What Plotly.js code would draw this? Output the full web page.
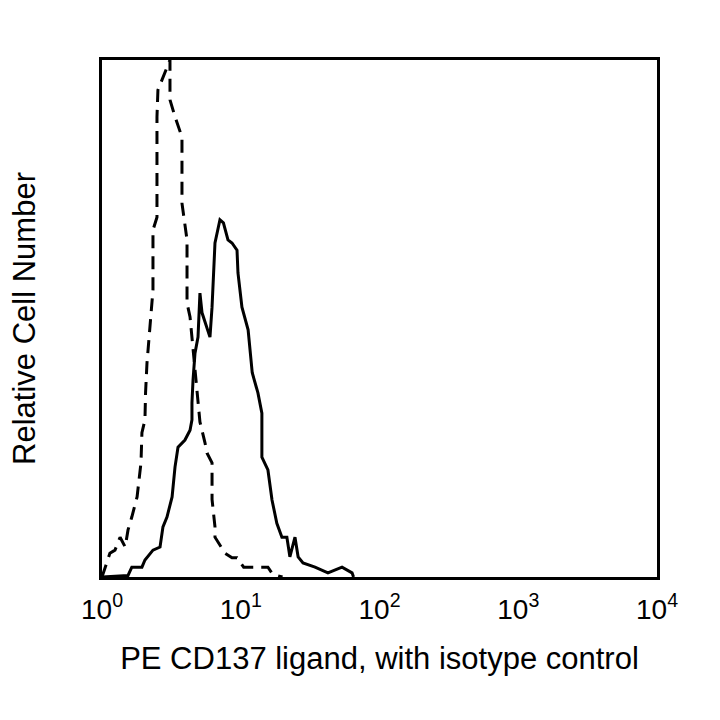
<!DOCTYPE html>
<html>
<head>
<meta charset="utf-8">
<script src="https://cdn.plot.ly/plotly-3.0.1.min.js"></script>
<style>html,body{margin:0;padding:0;background:#fff}#chart{width:720px;height:720px}</style>
</head>
<body>
<div id="chart"></div>
<script>
// Isotype control (dashed)
const isoX = [1.00,1.05,1.14,1.24,1.35,1.47,1.54,1.64,1.79,1.91,1.94,2.04,2.06,2.11,2.22,2.33,2.33,2.49,2.49,2.49,2.53,2.71,3.09,3.09,3.36,3.77,3.77,4.10,4.10,4.10,4.31,4.68,5.08,5.52,5.71,6.21,6.21,6.52,6.52,7.70,8.65,9.40,10.5,14.2,15.7,17.0,20.0];
const isoY = [0,1.9,4.6,5.2,7.7,5.8,9.1,11.6,15.5,22.1,27.9,30.4,35.6,41.4,48.4,55.5,67.1,69.6,82.0,89.0,94.2,96.1,100,92.3,89.0,85.1,72.3,65.2,56.9,53.0,50.3,40.0,30.0,26.0,24.0,22.1,15.0,9.7,7.7,4.6,3.7,3.7,1.9,1.9,1.9,0.5,0];
// PE CD137 ligand (solid)
const stainX = [1.00,1.54,1.64,1.94,2.04,2.33,2.62,2.75,2.94,3.20,3.36,3.53,3.96,4.31,4.45,4.45,4.53,4.68,4.92,5.08,5.26,6.00,6.21,6.52,7.08,7.50,8.09,8.65,9.40,9.55,10.2,11.3,12.1,13.3,14.2,14.2,15.7,16.8,18.2,19.8,21.5,22.6,24.6,25.9,28.1,34.3,42.5,53.7,63.4,65.0];
const stainY = [0,0.3,1.9,1.9,3.3,5.2,5.8,9.7,11.6,15.5,21.3,25.1,26.5,28.4,30.4,33.7,38.1,43.3,46.4,54.9,51.1,46.4,52.2,64.6,69.1,68.5,65.2,64.6,63.2,58.8,52.2,47.8,39.5,35.6,31.7,23.2,20.7,14.9,10.4,7.7,7.7,3.9,7.7,3.9,2.7,1.9,0.8,1.9,0.8,0];
const tickVals = [1,10,100,1000,10000];
const tickText = ['10<sup>0</sup>','10<sup>1</sup>','10<sup>2</sup>','10<sup>3</sup>','10<sup>4</sup>'];

const traces = [
  {x: isoX, y: isoY, mode: 'lines', type: 'scatter', line: {color: '#000', width: 3, dash: '13px,8px'}, hoverinfo: 'skip'},
  {x: stainX, y: stainY, mode: 'lines', type: 'scatter', line: {color: '#000', width: 3}, hoverinfo: 'skip'}
];
const layout = {
  width: 720, height: 720,
  margin: {l: 102, r: 63, t: 60, b: 143},
  paper_bgcolor: '#fff', plot_bgcolor: '#fff',
  showlegend: false,
  font: {family: 'Liberation Sans, Arial, sans-serif', color: '#000'},
  xaxis: {
    type: 'log', range: [0, 4],
    tickvals: tickVals, ticktext: tickText,
    tickfont: {size: 28}, ticks: '', ticklabelstandoff: 5,
    showgrid: false, zeroline: false,
    showline: true, mirror: true, linecolor: '#000', linewidth: 3,
    title: {text: 'PE CD137 ligand, with isotype control', font: {size: 31}, standoff: 24}
  },
  yaxis: {
    range: [0, 100], showticklabels: false, ticks: '',
    showgrid: false, zeroline: false,
    showline: true, mirror: true, linecolor: '#000', linewidth: 3,
    title: {text: 'Relative Cell Number', font: {size: 31}, standoff: 55}
  }
};
Plotly.newPlot('chart', traces, layout, {displayModeBar: false, staticPlot: true});
</script>
</body>
</html>
